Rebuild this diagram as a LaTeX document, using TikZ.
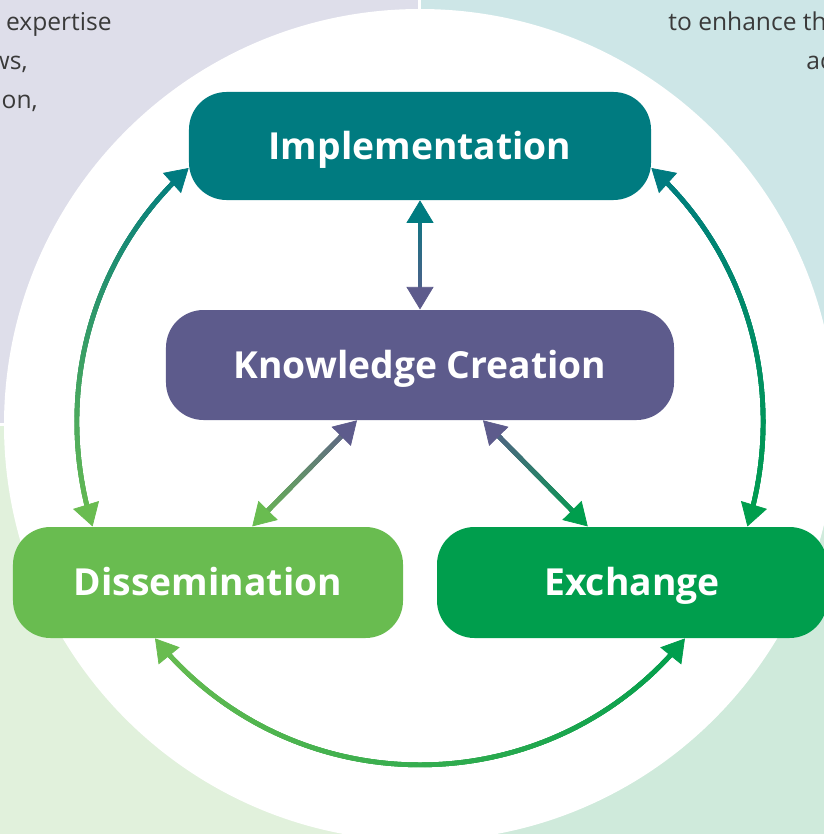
\documentclass[tikz,border=0pt]{standalone}
\usepackage{fontspec}
\setmainfont{Open Sans}
\usepackage{tikz}
\usetikzlibrary{positioning, arrows.meta, calc, decorations.markings}

\definecolor{implteal}{HTML}{007B80}
\definecolor{knowpurple}{HTML}{5D5B8C}
\definecolor{dissgreen}{HTML}{69BC50}
\definecolor{exchgreen}{HTML}{009E4D}
\definecolor{paneltl}{HTML}{DEDEEA}
\definecolor{paneltr}{HTML}{CDE6E7}
\definecolor{panelbl}{HTML}{E1F1DC}
\definecolor{panelbr}{HTML}{CFEADB}
\definecolor{bodytext}{HTML}{3A3A3A}

% Two-headed link whose colour blends from #4 (start) to #5 (end)
\newcommand{\gradlink}[5]{%
    % Stroke built from short slabs, each one a step further into the blend
    \path[decorate, decoration={markings,
        mark=between positions 3.6mm and -3.6mm step 0.25mm with {
            \pgfmathsetmacro{\blendpct}{min(100,max(0,(\pgfkeysvalueof{/pgf/decoration/mark info/distance from start})/(\pgfdecoratedpathlength)*100))}
            \fill[#5!\blendpct!#4] (-0.42mm,-0.47mm) rectangle (0.42mm,0.47mm);
        }}] (#1) #3 (#2);
    % Tips on top, each in the colour of its own end
    \path[decorate, decoration={markings,
        mark=at position 0 with {\arrowreversed{Triangle[length=4.5mm, width=5.4mm, color=#4]}},
        mark=at position -0.1pt with {\arrow{Triangle[length=4.5mm, width=5.4mm, color=#5]}}
        }] (#1) #3 (#2);
}

\begin{document}
\begin{tikzpicture}[
        x=0.2mm, y=0.2mm,
        stage_style/.style={rounded corners=7.5mm, inner sep=0pt, text=white,
            text height=15pt, text depth=0pt,
            font=\bfseries\fontsize{21.2}{25}\selectfont},
        body_style/.style={inner sep=0pt, text=bodytext, font=\fontsize{14}{17}\selectfont}
    ]

    \useasboundingbox (0,0) rectangle (824,-834);
    \clip (0,0) rectangle (824,-834);

    % =========================================================================
    % 1. BACKGROUND PANELS AND CENTRE DISC
    % =========================================================================
    \fill[paneltl] (0,0) rectangle (418,-423);
    \fill[paneltr] (421,0) rectangle (824,-423);
    \fill[panelbl] (0,-426) rectangle (418,-834);
    \fill[panelbr] (421,-426) rectangle (824,-834);

    % Panel text running off the edges
    \node[body_style, anchor=base east] (txtA) at (112,-31) {expertise};
    \node[body_style, anchor=base east] (txtB) at (28,-70) {ws,};
    \node[body_style, anchor=base east] (txtC) at (38,-109) {on,};
    \node[body_style, anchor=base west] (txtD) at (668,-31) {to enhance th};
    \node[body_style, anchor=base west] (txtE) at (806,-70) {ac};

    \fill[white] (420,-425) circle[radius=416];

    % =========================================================================
    % 2. STAGES
    % =========================================================================
    \node[stage_style, fill=implteal, minimum width=92.4mm, minimum height=21.6mm] (impl) at (420,-146) {Implementation};
    \node[stage_style, fill=knowpurple, minimum width=101.6mm, minimum height=22mm] (know) at (420,-365) {Knowledge Creation};
    \node[stage_style, fill=dissgreen, minimum width=78mm, minimum height=22.2mm] (diss) at (208,-582.5) {Dissemination};
    \node[stage_style, fill=exchgreen, minimum width=78mm, minimum height=22.2mm] (exch) at (632,-582.5) {Exchange};

    % =========================================================================
    % 3. LINKS
    % =========================================================================
    \gradlink{impl.south}{know.north}{--}{implteal}{knowpurple}
    \gradlink{$(know.south)+(-63,0)$}{$(diss.north)+(44,0)$}{--}{knowpurple}{dissgreen}
    \gradlink{$(know.south)+(63,0)$}{$(exch.north)+(-44,0)$}{--}{knowpurple}{exchgreen}

    % Outer ring of arcs
    \gradlink{$(impl.west)+(0,-22)$}{$(diss.north west)+(80,0)$}{to[out=222, in=107, looseness=0.93]}{implteal}{dissgreen}
    \gradlink{$(impl.east)+(0,-22)$}{$(exch.north east)+(-80,0)$}{to[out=318, in=73, looseness=0.93]}{implteal}{exchgreen}
    \gradlink{$(diss.south)+(-53,0)$}{$(exch.south)+(53,0)$}{to[out=309, in=231, looseness=1.05]}{dissgreen}{exchgreen}

\end{tikzpicture}
\end{document}
